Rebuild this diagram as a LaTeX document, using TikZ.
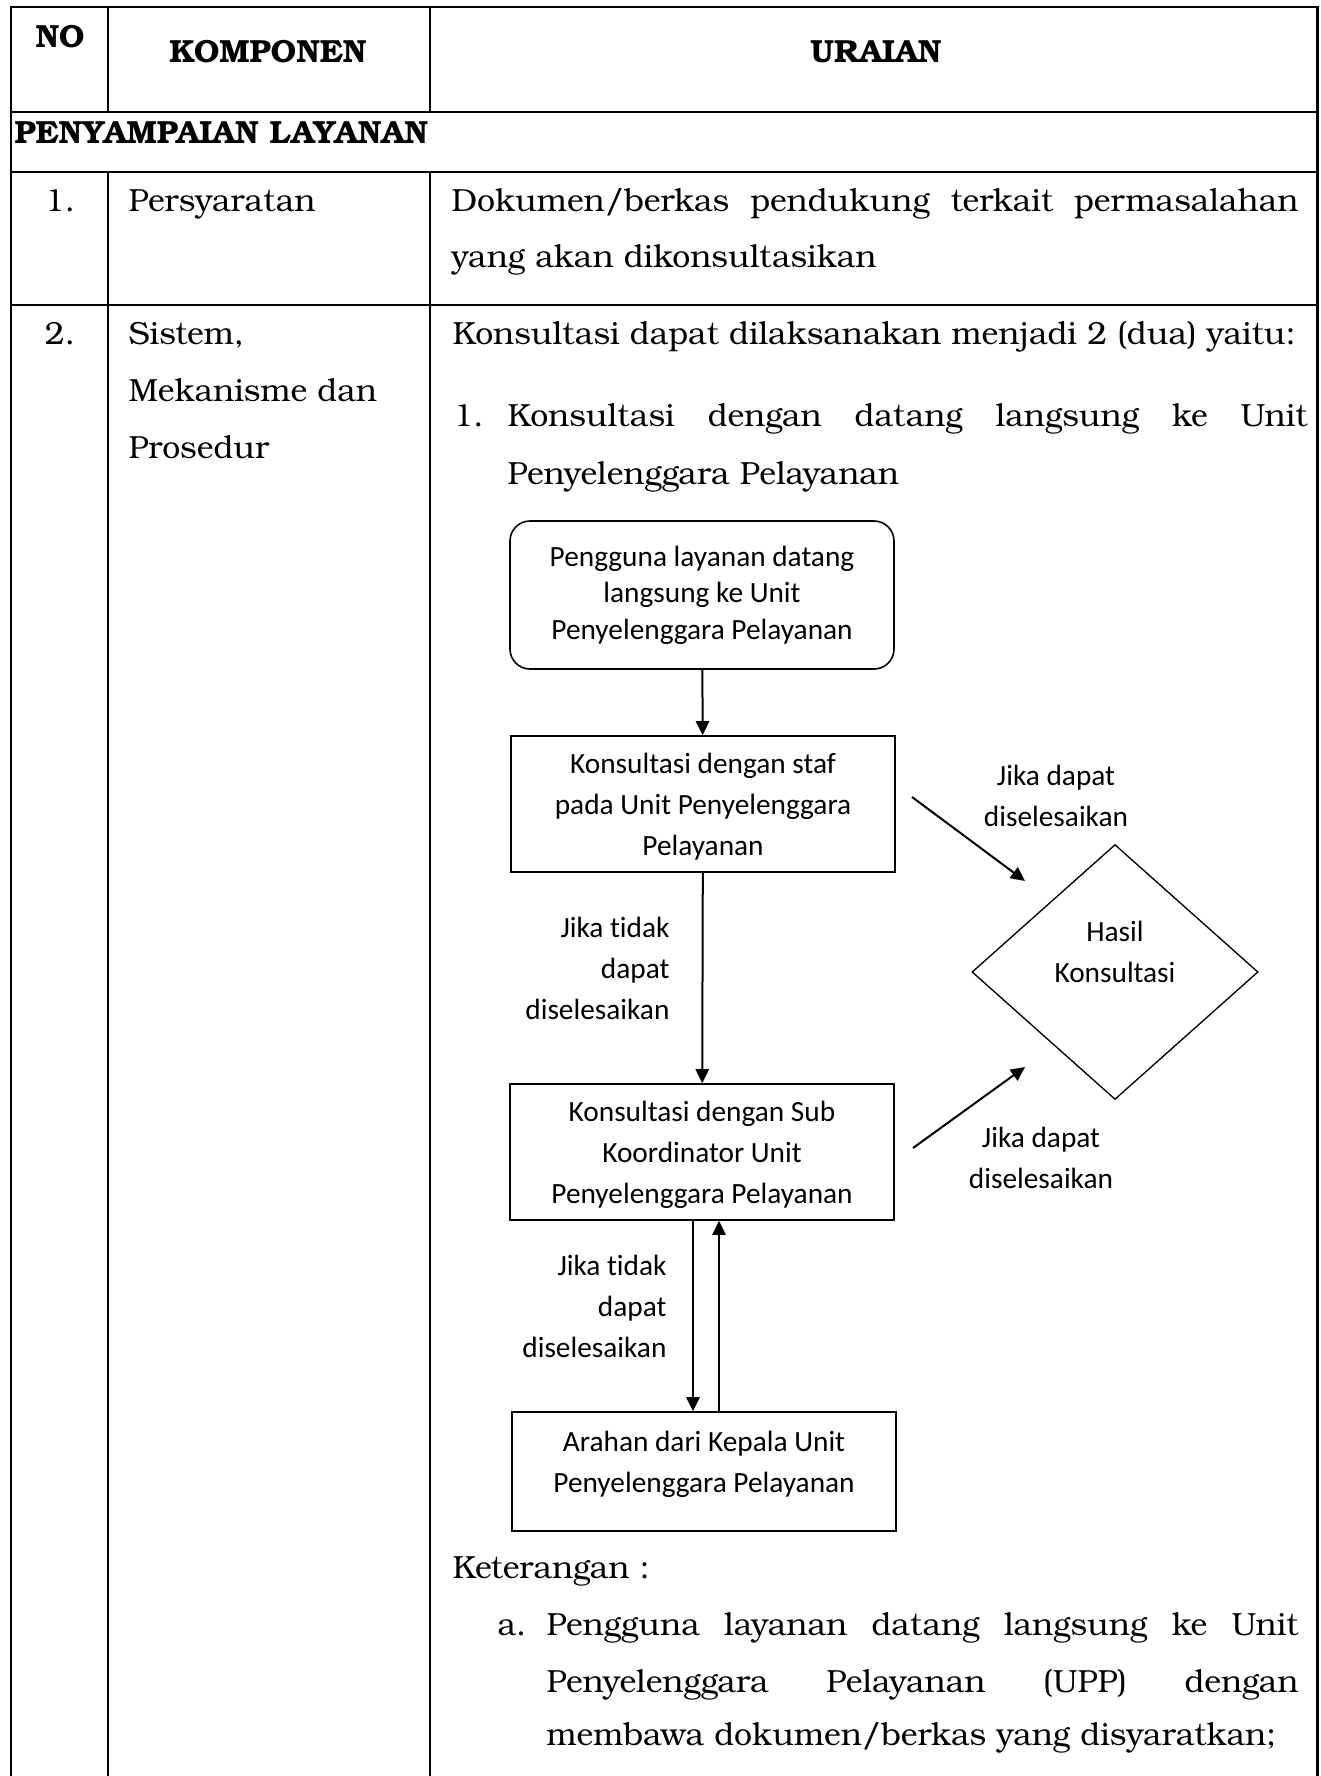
\documentclass[tikz,border=0pt]{standalone}
\usepackage{fontspec}
\setmainfont{TeX Gyre Bonum}
\newfontfamily\flowfont[Ligatures=NoCommon]{Carlito}
\usetikzlibrary{shapes.geometric,arrows.meta,calc}
% isi kotak proses, bisa digeser naik/turun
\newcommand{\isibox}[2][0pt]{\raisebox{#1}[\height][\depth]{\begin{tabular}{@{}c@{}}#2\end{tabular}}}

\begin{document}
\begin{tikzpicture}[x=0.375pt, y=-0.375pt,
    tabel/.style={line width=1pt, line join=miter},
    cell/.style={inner sep=0pt, font=\fontsize{12pt}{14pt}\selectfont},
    head/.style={inner sep=0pt, font=\fontsize{12pt}{14pt}\selectfont\bfseries},
    flow/.style={font=\flowfont\fontsize{11pt}{15.4pt}\selectfont, align=center},
    prosesbox/.style={flow, draw, line width=0.6pt, minimum width=144pt, minimum height=51pt, inner sep=2pt},
    mulai/.style={prosesbox, rounded corners=7.5pt, minimum height=55.5pt, font=\flowfont\fontsize{11pt}{13.7pt}\selectfont},
    keputusan/.style={flow, draw, diamond, line width=0.5pt, inner sep=0pt, aspect=1.12, minimum width=107.3pt, minimum height=95.6pt},
    lbl/.style={flow, inner sep=0pt},
    arr/.style={-{Triangle[length=5.3pt,width=5pt]}, line width=0.75pt}]
  \useasboundingbox (0,0) rectangle (1321,1776);

  % garis tabel
  \draw[tabel] (11,1776) -- (11,7) -- (1317.5,7) -- (1317.5,1776);
  \draw[tabel] (11,112) -- (1317.5,112);
  \draw[tabel] (11,172) -- (1317.5,172);
  \draw[tabel] (11,305) -- (1317.5,305);
  \draw[tabel] (108,7) -- (108,112) (430,7) -- (430,112);
  \draw[tabel] (108,172) -- (108,1776) (430,172) -- (430,1776);

  % kepala tabel
  \node[head, anchor=base] (hno) at (60,48) {NO};
  \node[head, anchor=base] (hkomp) at (268,63) {KOMPONEN};
  \node[head, anchor=base] (hurai) at (876,63) {URAIAN};
  \node[head, anchor=base west] (sect) at (14,144) {PENYAMPAIAN LAYANAN};

  % baris 1
  \node[cell, anchor=base] (no1) at (60,212) {1.};
  \node[cell, anchor=base west] (komp1) at (128,212) {Persyaratan};
  \node[cell, anchor=base west] (urai1a) at (451,212) {\makebox[317.6pt][s]{Dokumen/berkas pendukung terkait permasalahan}};
  \node[cell, anchor=base west] (urai1b) at (451,268) {yang akan dikonsultasikan};

  % baris 2
  \node[cell, anchor=base] (no2) at (60,344) {2.};
  \node[cell, anchor=base west] (komp2a) at (128,344) {Sistem,};
  \node[cell, anchor=base west] (komp2b) at (128,401) {Mekanisme dan};
  \node[cell, anchor=base west] (komp2c) at (128,458) {Prosedur};
  \node[cell, anchor=base west] (urai2a) at (452,344) {Konsultasi dapat dilaksanakan menjadi 2 (dua) yaitu:};
  \node[cell, anchor=base west] (urai2no) at (453,426) {1.};
  \node[cell, anchor=base west] (urai2b) at (507,426) {\makebox[300pt][s]{Konsultasi dengan datang langsung ke Unit}};
  \node[cell, anchor=base west] (urai2c) at (507,484) {Penyelenggara Pelayanan};

  % alur konsultasi
  \node[mulai] (datang) at (702,595) {Pengguna layanan datang\\langsung ke Unit\\Penyelenggara Pelayanan};
  \node[prosesbox] (staf) at (703,804) {\isibox[-0.8pt]{Konsultasi dengan staf\\pada Unit Penyelenggara\\Pelayanan}};
  \node[prosesbox] (subkoor) at (702,1152) {\isibox[-0.8pt]{Konsultasi dengan Sub\\Koordinator Unit\\Penyelenggara Pelayanan}};
  \node[prosesbox, minimum height=44.6pt] (kepala) at (704,1471.5) {\isibox[3pt]{Arahan dari Kepala Unit\\Penyelenggara Pelayanan}};
  \node[keputusan] (hasil) at (1115,972) {Hasil\\Konsultasi\\\mbox{}};

  \node[lbl] (lbldapat1) at (1056,796) {Jika dapat\\diselesaikan};
  \node[lbl, align=right, anchor=east] (lbltidak1) at (670,968) {Jika tidak\\dapat\\diselesaikan};
  \node[lbl] (lbldapat2) at (1041,1158) {Jika dapat\\diselesaikan};
  \node[lbl, align=right, anchor=east] (lbltidak2) at (667,1306) {Jika tidak\\dapat\\diselesaikan};

  \coordinate (s1) at (912,797);
  \coordinate (h1) at (1025,881);
  \coordinate (s2) at (913,1148);
  \coordinate (h2) at (1025,1067);
  \coordinate (turun) at ($(subkoor.south)+(-9,0)$);
  \coordinate (naik) at ($(kepala.north)+(15,0)$);

  \draw[arr] (datang) -- (staf);
  \draw[arr] (staf) -- (subkoor);
  \draw[arr] (s1) -- (h1);
  \draw[arr] (s2) -- (h2);
  \draw[arr] (turun) -- (turun |- kepala.north);
  \draw[arr] (naik) -- (naik |- subkoor.south);

  % keterangan
  \node[cell, anchor=base west] (ket) at (452,1578) {Keterangan :};
  \node[cell, anchor=base west] (keta) at (497,1635) {a.};
  \node[cell, anchor=base west] (keta1) at (546,1635) {\makebox[282pt][s]{Pengguna layanan datang langsung ke Unit}};
  \node[cell, anchor=base west] (keta2) at (546,1692) {\makebox[282pt][s]{Penyelenggara Pelayanan (UPP) dengan}};
  \node[cell, anchor=base west] (keta3) at (546,1745) {membawa dokumen/berkas yang disyaratkan;};
\end{tikzpicture}
\end{document}
